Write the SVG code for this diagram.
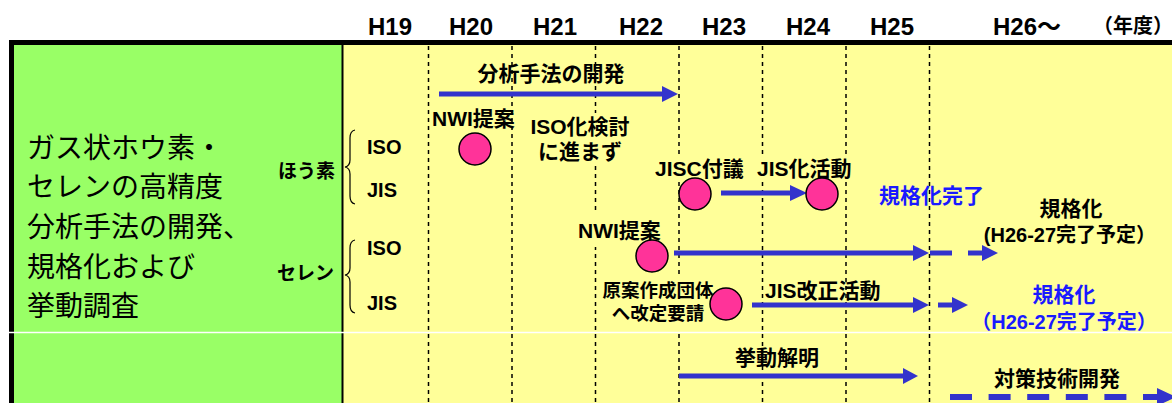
<svg xmlns="http://www.w3.org/2000/svg" width="1172" height="403" viewBox="0 0 1172 403">
<style>
text{font-family:"Liberation Sans","Noto Sans CJK JP",sans-serif;fill:#000}
.yr{font-size:24px;font-weight:bold;text-anchor:middle}
.lb{font-size:21px;font-weight:bold}
.mid{text-anchor:middle}
.sm{font-size:20px;font-weight:bold}
.blue{fill:#1a1aff}
.grid{stroke:#000;stroke-width:1.5;stroke-dasharray:4 4}
.node{fill:#ff3399;stroke:#000;stroke-width:1.5}
.bg{fill:#ffff99}
.ar{stroke:#3333cc;stroke-width:5;fill:none}
.hd{fill:#3333cc}
</style>
<rect width="1172" height="403" fill="#fff"/>
<g id="frame">
<rect x="14" y="45" width="328" height="358" fill="#99ff66"/>
<rect x="343" y="45" width="829" height="358" fill="#ffff99"/>
<rect x="9" y="40" width="1163" height="5" fill="#000"/>
<rect x="9" y="40" width="5" height="363" fill="#000"/>
<line x1="342.5" y1="45" x2="342.5" y2="403" stroke="#000" stroke-width="2"/>
<line x1="9" y1="332.5" x2="1172" y2="332.5" stroke="#fff" stroke-width="1.5"/>
</g>
<g id="grid">
<line class="grid" x1="428.5" y1="46" x2="428.5" y2="403"/>
<line class="grid" x1="512" y1="46" x2="512" y2="403"/>
<line class="grid" x1="595.5" y1="46" x2="595.5" y2="403"/>
<line class="grid" x1="679" y1="46" x2="679" y2="403"/>
<line class="grid" x1="762.5" y1="46" x2="762.5" y2="403"/>
<line class="grid" x1="846" y1="46" x2="846" y2="403"/>
<line class="grid" x1="929.5" y1="46" x2="929.5" y2="403"/>
</g>
<g id="years">
<text class="yr" x="390" y="35">H19</text>
<text class="yr" x="471" y="35">H20</text>
<text class="yr" x="555" y="35">H21</text>
<text class="yr" x="641" y="35">H22</text>
<text class="yr" x="724" y="35">H23</text>
<text class="yr" x="808" y="35">H24</text>
<text class="yr" x="892" y="35">H25</text>
<text class="yr" x="1027" y="35">H26〜</text>
<text x="1093" y="33" style="font-size:20px;font-weight:bold">（年度）</text>
</g>
<g id="title">
<text x="27" y="158" style="font-size:28px">ガス状ホウ素・</text>
<text x="27" y="197" style="font-size:28px">セレンの高精度</text>
<text x="27" y="237" style="font-size:28px">分析手法の開発、</text>
<text x="27" y="277" style="font-size:28px">規格化および</text>
<text x="27" y="316" style="font-size:28px">挙動調査</text>
</g>
<g id="boron">
<text x="335" y="178" style="font-size:19px;font-weight:bold;text-anchor:end">ほう素</text>
<path d="M355,130 Q350,131 350,138 L350,160 Q350,166 345,167 Q350,168 350,174 L350,196 Q350,203 355,204" fill="none" stroke="#000" stroke-width="1.2"/>
<text class="sm" x="367" y="154">ISO</text>
<text class="sm" x="367" y="197">JIS</text>
</g>
<g id="selenium">
<text x="334" y="280" style="font-size:19px;font-weight:bold;text-anchor:end">セレン</text>
<path d="M355,240 Q350,241 350,248 L350,268 Q350,274 345,275 Q350,276 350,282 L350,305 Q350,312 355,313" fill="none" stroke="#000" stroke-width="1.2"/>
<text class="sm" x="367" y="255">ISO</text>
<text class="sm" x="367" y="310">JIS</text>
</g>
<g id="connectors">
<line class="ar" x1="439" y1="94" x2="663" y2="94"/>
<polygon class="hd" points="662,86 678,94 662,102"/>
<line class="ar" x1="721" y1="193" x2="791" y2="193"/>
<polygon class="hd" points="790,185 807,193 790,201"/>
<line class="ar" x1="674" y1="253" x2="914" y2="253"/>
<polygon class="hd" points="913,245 929,253 913,261"/>
<line class="ar" x1="930" y1="253" x2="952" y2="253"/>
<line class="ar" x1="968" y1="253" x2="983" y2="253"/>
<polygon class="hd" points="982,245 998,253 982,261"/>
<line class="ar" x1="752" y1="305" x2="914" y2="305"/>
<polygon class="hd" points="913,297 929,305 913,313"/>
<line class="ar" x1="938" y1="305" x2="953" y2="305"/>
<polygon class="hd" points="952,297 968,305 952,313"/>
<line class="ar" x1="679" y1="376" x2="904" y2="376"/>
<polygon class="hd" points="903,368 918,376 903,384"/>
<line class="ar" x1="950" y1="397" x2="1158" y2="397" style="stroke-width:6;stroke-dasharray:22 16.6"/>
<polygon class="hd" points="1157,388 1176,397 1157,406"/>
</g>
<g id="analysis">
<text class="lb mid" x="551" y="81">分析手法の開発</text>
</g>
<g id="b-iso">
<text class="lb" x="432" y="126">NWI提案</text>
<circle class="node" cx="475" cy="149" r="16"/>
<rect class="bg" x="527" y="113" width="106" height="52"/>
<text class="lb mid" x="580" y="134">ISO化検討</text>
<text class="lb mid" x="580" y="159">に進まず</text>
</g>
<g id="b-jis">
<rect class="bg" x="653" y="157" width="92" height="24"/>
<text class="lb" x="655" y="176">JISC付議</text>
<circle class="node" cx="695" cy="194" r="16"/>
<rect class="bg" x="755" y="157" width="101" height="24"/>
<text class="lb" x="757" y="176">JIS化活動</text>
<circle class="node" cx="822" cy="194" r="16"/>
<text class="lb blue" x="879" y="203">規格化完了</text>
</g>
<g id="s-iso">
<rect class="bg" x="576" y="214" width="90" height="33"/>
<text class="lb" x="578" y="238">NWI提案</text>
<circle class="node" cx="652" cy="256" r="16"/>
<text class="lb mid" x="1071" y="216">規格化</text>
<text class="sm mid" x="1070" y="242">(H26-27完了予定）</text>
</g>
<g id="s-jis">
<rect class="bg" x="598" y="276" width="118" height="54"/>
<text class="mid" x="658" y="297" style="font-size:18.5px;font-weight:bold">原案作成団体</text>
<text class="mid" x="658" y="320" style="font-size:18.5px;font-weight:bold">へ改定要請</text>
<circle class="node" cx="726" cy="304" r="16"/>
<text class="lb" x="765" y="298">JIS改正活動</text>
<text class="lb mid blue" x="1064" y="302">規格化</text>
<text class="sm mid blue" x="1064" y="329">（H26-27完了予定）</text>
</g>
<g id="behavior">
<text class="lb mid" x="777" y="365">挙動解明</text>
<text class="lb mid" x="1057" y="386">対策技術開発</text>
</g>
</svg>
